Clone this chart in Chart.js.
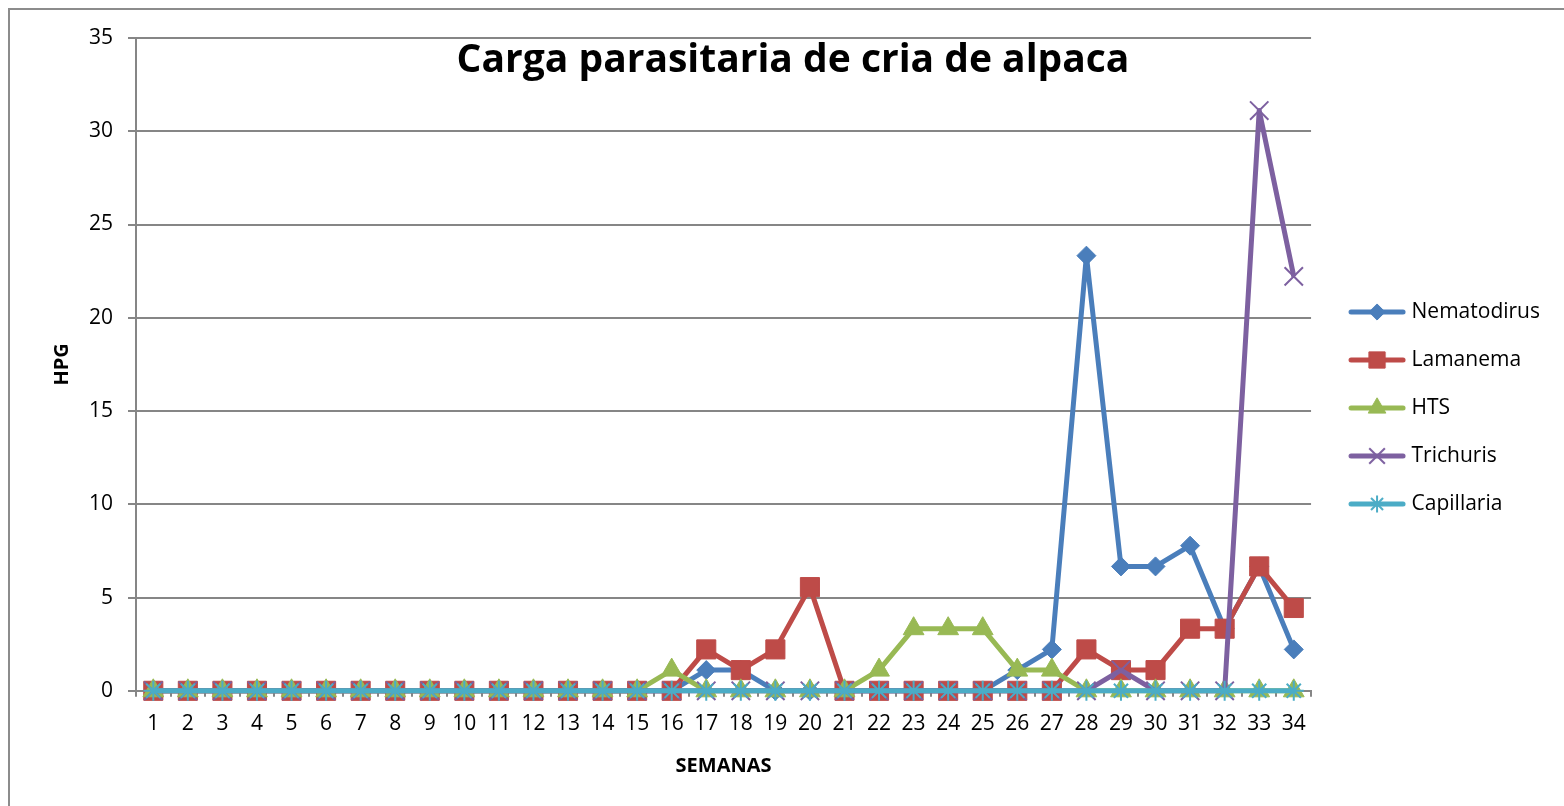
<!DOCTYPE html>
<html>
<head>
<meta charset="utf-8">
<title>Carga parasitaria de cria de alpaca</title>
<script src="https://cdn.jsdelivr.net/npm/chart.js@4.4.1/dist/chart.umd.min.js"></script>
<style>
  html, body { margin: 0; padding: 0; background: #fff; }
  #wrap { position: relative; width: 1564px; height: 806px; overflow: hidden; }
  #frame { position: absolute; left: 8px; top: 8px; width: 1600px; height: 900px; border: 2px solid #8c8c8c; }
  canvas { position: absolute; left: 0; top: 0; }
</style>
</head>
<body>
<div id="wrap">
  <div id="frame"></div>
  <canvas id="chart" width="1564" height="806"></canvas>
</div>
<script>
// semanas (eje X)
const weeks = ['1','2','3','4','5','6','7','8','9','10','11','12','13','14','15','16','17',
               '18','19','20','21','22','23','24','25','26','27','28','29','30','31','32','33','34'];

// HPG por semana
const nematodirus = [0,0,0,0,0,0,0,0,0,0,0,0,0,0,0,0, 1.11,1.11, 0,0,0,0,0,0,0,
                     1.11,2.22,23.33,6.67,6.67,7.78,3.33,6.67,2.22];
const lamanema    = [0,0,0,0,0,0,0,0,0,0,0,0,0,0,0,0, 2.22,1.11,2.22,5.56, 0, 0,0,0,0,0,0,
                     2.22,1.11,1.11,3.33,3.33,6.67,4.44];
const hts         = [0,0,0,0,0,0,0,0,0,0,0,0,0,0,0, 1.11, 0, 0,0,0,0, 1.11,3.33,3.33,3.33,1.11,1.11,
                     0,0,0,0,0,0,0];
const trichuris   = [0,0,0,0,0,0,0,0,0,0,0,0,0,0,0,0,0,0,0,0,0,0,0,0,0,0,0,0, 1.11, 0,0,0, 31.11,22.22];
const capillaria  = [0,0,0,0,0,0,0,0,0,0,0,0,0,0,0,0,0,0,0,0,0,0,0,0,0,0,0,0,0,0,0,0,0,0];

const yTicks = [0, 5, 10, 15, 20, 25, 30, 35];

const FONT = '"Open Sans", Lato, sans-serif';

// crea una serie con estilo de Excel
function makeSeries(label, data, color, marker, radius, markerBorder, order) {
    return {
        label: label,
        data: data,
        borderColor: color,
        backgroundColor: color,
        borderWidth: 5,
        borderJoinStyle: 'round',
        pointStyle: marker,
        pointRadius: radius,
        pointBorderWidth: markerBorder,
        pointBackgroundColor: color,
        pointBorderColor: color,
        tension: 0,
        clip: false,
        order: order
    };
}

const datasets = [
    makeSeries('Nematodirus', nematodirus, '#4a7ebb', 'rectRot', 9.5, 1, 4),
    makeSeries('Lamanema', lamanema, '#be4b48', 'rect', 13.5, 1, 3),
    makeSeries('HTS', hts, '#98b954', 'triangle', 12, 1, 2),
    makeSeries('Trichuris', trichuris, '#7d60a0', 'crossRot', 13, 2, 1),
    makeSeries('Capillaria', capillaria, '#4bacc6', 'star', 10, 2, 0)
];

// muestra de leyenda: linea con marcador al medio (margen izquierdo vacio)
function legendSample(ds) {
    const c = document.createElement('canvas');
    c.width = 73;
    c.height = 26;
    const g = c.getContext('2d');
    g.strokeStyle = ds.borderColor;
    g.fillStyle = ds.borderColor;
    g.lineWidth = 5;
    g.lineCap = 'round';
    g.beginPath();
    g.moveTo(18, 13);
    g.lineTo(70, 13);
    g.stroke();
    g.lineWidth = ds.pointBorderWidth;
    g.lineCap = 'butt';
    Chart.helpers.drawPoint(g, {
        pointStyle: ds.pointStyle,
        radius: ds.pointRadius * 0.85,
        borderWidth: ds.pointBorderWidth,
        rotation: 0
    }, 44, 13);
    return c;
}

const titlePlugin = {
    id: 'excelTitle',
    afterDraw(chart) {
        const ctx = chart.ctx;
        ctx.save();
        ctx.font = 'bold 39px ' + FONT;
        ctx.fillStyle = '#000';
        ctx.textAlign = 'center';
        ctx.textBaseline = 'middle';
        ctx.fillText('Carga parasitaria de cria de alpaca', 793, 61);
        ctx.restore();
    }
};

new Chart(document.getElementById('chart'), {
    type: 'line',
    data: { labels: weeks, datasets: datasets },
    plugins: [titlePlugin],
    options: {
        responsive: false,
        animation: false,
        events: [],
        layout: { padding: { left: 50, top: 38, right: 14, bottom: 28 } },
        plugins: {
            title: { display: false },
            tooltip: { enabled: false },
            legend: {
                position: 'right',
                labels: {
                    usePointStyle: true,
                    pointStyleWidth: 63,
                    padding: 27,
                    color: '#000',
                    font: { family: FONT, size: 21 },
                    generateLabels(chart) {
                        return chart.data.datasets.map((ds, i) => ({
                            text: ds.label,
                            pointStyle: legendSample(ds),
                            fillStyle: ds.borderColor,
                            strokeStyle: ds.borderColor,
                            lineWidth: 0,
                            fontColor: '#000',
                            hidden: false,
                            datasetIndex: i
                        }));
                    }
                }
            }
        },
        scales: {
            x: {
                type: 'category',
                offset: true,
                border: { color: '#868686', width: 2 },
                grid: {
                    offset: true,
                    drawOnChartArea: false,
                    drawTicks: true,
                    tickLength: 6,
                    color: '#868686',
                    lineWidth: 2
                },
                ticks: {
                    autoSkip: false,
                    maxRotation: 0,
                    padding: 15,
                    color: '#000',
                    font: { family: FONT, size: 21 }
                },
                title: {
                    display: true,
                    text: 'SEMANAS',
                    color: '#000',
                    font: { family: FONT, size: 20, weight: 'bold' },
                    padding: { top: 2, bottom: 0 }
                }
            },
            y: {
                min: 0,
                max: 35,
                border: { color: '#868686', width: 2 },
                grid: {
                    color: '#868686',
                    lineWidth: 2,
                    tickLength: 8
                },
                afterBuildTicks(scale) {
                    scale.ticks = yTicks.map(v => ({ value: v }));
                },
                ticks: {
                    padding: 15,
                    color: '#000',
                    font: { family: FONT, size: 21 }
                },
                title: {
                    display: true,
                    text: 'HPG',
                    color: '#000',
                    font: { family: FONT, size: 20, weight: 'bold' },
                    padding: { top: 0, bottom: 0 }
                }
            }
        }
    }
});
</script>
</body>
</html>
